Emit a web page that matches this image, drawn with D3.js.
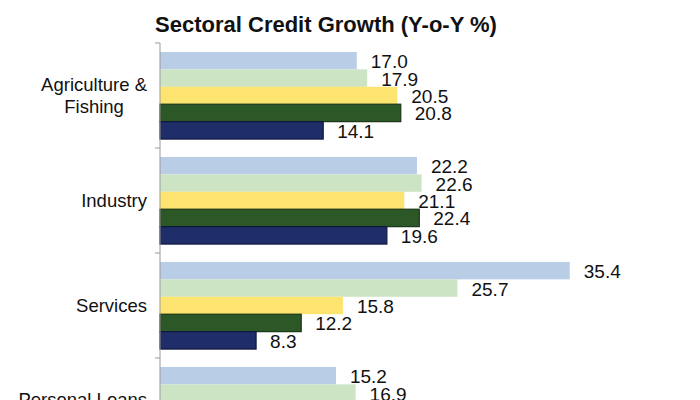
<!DOCTYPE html>
<html>
<head>
<meta charset="utf-8">
<script src="https://cdn.jsdelivr.net/npm/d3@7"></script>
<style>
  html, body { margin: 0; padding: 0; background: #ffffff; }
  svg { display: block; }
  text { font-family: "Liberation Sans", Arial, sans-serif; fill: #111; }
</style>
</head>
<body>
<svg id="chart" width="700" height="400"></svg>
<script>
// ---- data ----
const categories = ["Agriculture & Fishing", "Industry", "Services", "Personal Loans"];
const categoryLines = [["Agriculture &", "Fishing"], ["Industry"], ["Services"], ["Personal Loans", ""]];
const seriesKeys = ["s1", "s2", "s3", "s4", "s5"];
const s1 = [17.0, 22.2, 35.4, 15.2];
const s2 = [17.9, 22.6, 25.7, 16.9];
const s3 = [20.5, 21.1, 15.8, null];
const s4 = [20.8, 22.4, 12.2, null];
const s5 = [14.1, 19.6, 8.3, null];
const seriesValues = [s1, s2, s3, s4, s5];
const titleText = "Sectoral Credit Growth (Y-o-Y %)";

// ---- styles ----
const fills = ["#b9cde6", "#cde4c4", "#fde46e", "#2c5726", "#1f2d68"];
const strokes = [null, null, null, "#1a3516", "#0f1840"];

const svg = d3.select("#chart");

const x = d3.scaleLinear().domain([0, 40]).range([160, 623]);
const y = d3.scaleBand().domain(categories).range([43, 463])
  .paddingInner(0.17).paddingOuter(0.085);
const yInner = d3.scaleBand().domain(seriesKeys).range([0, y.bandwidth()]).padding(0);

// title
svg.append("text")
  .attr("x", 326).attr("y", 32)
  .attr("text-anchor", "middle")
  .style("font-size", "22px").style("font-weight", "bold")
  .text(titleText);

// bars
const rows = [];
categories.forEach((c, ci) => {
  seriesKeys.forEach((k, si) => {
    const v = seriesValues[si][ci];
    if (v !== null && v !== undefined) rows.push({ c, k, si, v });
  });
});

const g = svg.append("g");
g.selectAll("rect").data(rows).enter().append("rect")
  .attr("x", x(0))
  .attr("y", d => y(d.c) + yInner(d.k))
  .attr("width", d => x(d.v) - x(0))
  .attr("height", yInner.bandwidth())
  .attr("fill", d => fills[d.si])
  .attr("stroke", d => strokes[d.si] || "none")
  .attr("stroke-width", d => strokes[d.si] ? 1.2 : 0);

// value labels
g.selectAll("text.val").data(rows).enter().append("text")
  .attr("class", "val")
  .attr("x", d => x(d.v) + 14)
  .attr("y", d => y(d.c) + yInner(d.k) + yInner.bandwidth() / 2 + 7.5)
  .style("font-size", "19px")
  .text(d => d.v.toFixed(1));

// axis line and boundary ticks
const axisG = svg.append("g");
axisG.append("line")
  .attr("x1", x(0)).attr("x2", x(0))
  .attr("y1", y.range()[0]).attr("y2", y.range()[1])
  .attr("stroke", "#9a9a9a").attr("stroke-width", 1);
d3.range(categories.length + 1).forEach(i => {
  const ty = y.range()[0] + i * y.step();
  axisG.append("line")
    .attr("x1", x(0) - 5).attr("x2", x(0))
    .attr("y1", ty).attr("y2", ty)
    .attr("stroke", "#9a9a9a").attr("stroke-width", 1);
});

// category labels: block right-aligned at x=147, lines centred within the block
categories.forEach((c, ci) => {
  const lines = categoryLines[ci];
  const cy = y(c) + y.bandwidth() / 2;
  const lh = 22;
  const start = cy + 6.5 - (lines.length - 1) * lh / 2;
  const t = axisG.append("text")
    .attr("text-anchor", "middle")
    .style("font-size", "18.5px");
  const spans = lines.map((ln, li) =>
    t.append("tspan").attr("y", start + li * lh).text(ln));
  const maxW = d3.max(spans, s => s.node().getComputedTextLength());
  spans.forEach(s => s.attr("x", 147 - maxW / 2));
});
</script>
</body>
</html>
